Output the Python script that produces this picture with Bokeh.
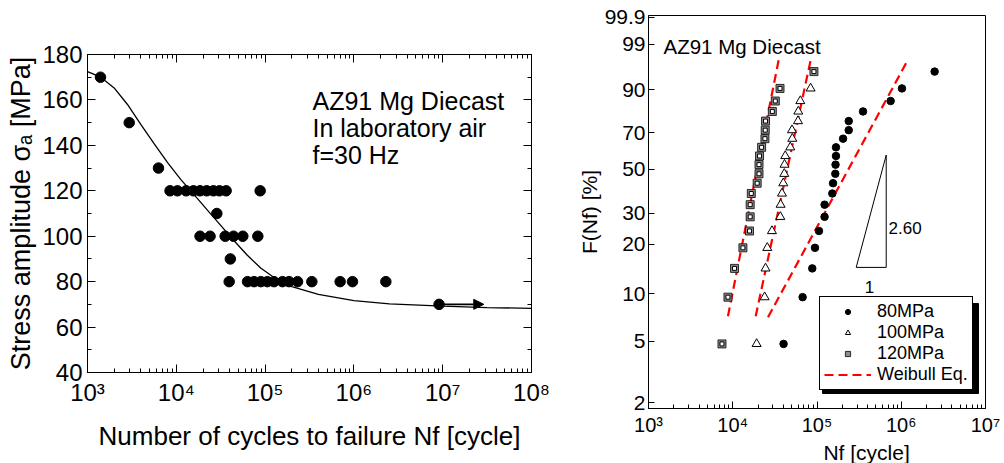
import math
from bokeh.plotting import figure
from bokeh.layouts import row
from bokeh.models import (FixedTicker, CustomJSTickFormatter, LogAxis, LinearAxis, Label,
                          Arrow, NormalHead, Legend, LegendItem)
from bokeh.embed import file_html
from bokeh.resources import INLINE

FONT = "Liberation Sans"

# ---------------- Left panel: S-N data (AZ91 Mg diecast) ----------------
sn_stress = [170, 150, 130,
             120, 120, 120, 120, 120, 120, 120, 120, 120, 120,
             110,
             100, 100, 100, 100, 100, 100,
             90,
             80, 80, 80, 80, 80, 80, 80, 80, 80, 80, 80, 80, 80]
sn_cycles = [1400, 2950, 6300,
             8500, 10300, 12900, 15600, 18500, 22000, 26200, 30600, 36400, 88000,
             28600,
             18500, 24000, 35500, 44100, 56100, 82800,
             40600,
             39400, 63400, 75200, 89500, 106000, 126000, 157000, 186000, 232000,
             336000, 700000, 964000, 2290000]
runout_cycles = [9100000]
runout_stress = [70]
runout_arrow_end = [29000000]

curve_N = [1000, 1410, 1995, 2820, 3980, 5620, 7940, 11200, 15850, 22400, 31600,
           44700, 63100, 89100, 126000, 200000, 398000, 1000000, 2510000,
           10000000, 31600000, 100000000]
curve_S = [172.5, 170.0, 165.3, 158.0, 149.2, 140.8, 132.5, 125.0, 118.3, 111.5, 104.8,
           98.0, 91.6, 86.0, 81.8, 77.8, 74.4, 71.6, 70.2, 69.2, 68.6, 68.2]

sn_x_ticks = [1e3, 1e4, 1e5, 1e6, 1e7, 1e8]
sn_y_ticks = [40, 60, 80, 100, 120, 140, 160, 180]

# ---------------- Right panel: Weibull plot ----------------
F_rank = [4.8, 9.5, 14.3, 19.0, 23.8, 28.6, 33.3, 38.1, 42.9, 47.6,
          52.4, 57.1, 61.9, 66.7, 71.4, 76.2, 81.0, 85.7, 90.5, 95.2]
N_80 = [40100, 67500, 87900, 94600, 105600, 123000, 123000, 152000, 155000, 165000,
        166000, 168000, 168000, 204000, 238000, 238000, 352000, 748000, 1020000, 2490000]
N_100 = [19200, 23900, 24500, 25700, 29200, 36700, 37000, 38400, 39800, 40900,
         41200, 42000, 48200, 50900, 50500, 59500, 60000, 63400, 84000]
N_120 = [7450, 8770, 10500, 13200, 15800, 16100, 16100, 16600, 19500, 20500,
         20500, 20800, 22000, 24100, 24300, 24500, 29500, 32000, 36400, 92000]

wb_N_120 = [8770, 35600]
wb_F_120 = [7.2, 97.7]
wb_N_100 = [18700, 85500]
wb_F_100 = [7.2, 97.7]
wb_N_80 = [26200, 1150000]
wb_F_80 = [7.1, 96.9]

tri_N = [292000, 663000, 663000, 292000]
tri_F = [14.5, 14.5, 57.6, 14.5]

wb_x_ticks = [1e3, 1e4, 1e5, 1e6, 1e7]
wb_y_tick_labels = [2, 5, 10, 20, 30, 50, 70, 90, 99, 99.9]


def W(F):
    return [math.log(-math.log(1.0 - f / 100.0)) for f in F]


SUP_CODE = """
const s = {0:'\u2070',1:'\u00b9',2:'\u00b2',3:'\u00b3',4:'\u2074',5:'\u2075',6:'\u2076',7:'\u2077',8:'\u2078',9:'\u2079'};
const e = Math.round(Math.log10(tick));
return '10' + s[e];
"""


def minor_log(lo, hi):
    return [k * 10 ** e for e in range(lo, hi) for k in range(2, 10)]


def lbl(p, text, x, y, size, style="normal", align="left", angle=0.0):
    p.add_layout(Label(x=x, y=y, x_units="screen", y_units="screen", text=text,
                       text_font=FONT, text_font_size=f"{size}px", text_font_style=style,
                       text_align=align, text_baseline="alphabetic", angle=angle,
                       text_color="black"))


def style_axis(ax, size, tin, minin):
    ax.major_label_text_font = FONT
    ax.major_label_text_font_size = f"{size}px"
    ax.major_label_text_color = "black"
    ax.major_tick_in = tin
    ax.major_tick_out = 0
    ax.minor_tick_in = minin
    ax.minor_tick_out = 0
    ax.axis_line_color = "black"
    ax.major_tick_line_color = "black"
    ax.minor_tick_line_color = "black"


def axis_title(ax, text, size, standoff):
    ax.axis_label = text
    ax.axis_label_text_font = FONT
    ax.axis_label_text_font_size = f"{size}px"
    ax.axis_label_text_font_style = "normal"
    ax.axis_label_text_color = "black"
    ax.axis_label_standoff = standoff


def blank_formatter():
    return CustomJSTickFormatter(code="return '';")


def no_frame_align(p):
    try:
        p.frame_align = False
    except Exception:
        pass


# ================= LEFT FIGURE =================
p1 = figure(frame_width=444, frame_height=318, x_axis_type="log",
            x_range=(1e3, 1e8), y_range=(40, 180), title_location=None,
            min_border_left=87, min_border_right=37, min_border_top=54, min_border_bottom=91,
            output_backend="svg", toolbar_location=None)
no_frame_align(p1)
p1.grid.visible = False
p1.outline_line_color = "black"
p1.outline_line_alpha = 1
p1.background_fill_color = "white"
p1.border_fill_color = "white"

xt1 = FixedTicker(ticks=sn_x_ticks, minor_ticks=minor_log(3, 8))
yt1 = FixedTicker(ticks=sn_y_ticks, minor_ticks=[v + 10 for v in sn_y_ticks[:-1]])
p1.xaxis.ticker = xt1
p1.xaxis.formatter = CustomJSTickFormatter(code=SUP_CODE)
p1.yaxis.ticker = yt1
style_axis(p1.xaxis[0], 24, 8, 4)
style_axis(p1.yaxis[0], 24, 8, 4)
p1.xaxis.major_label_standoff = 6
p1.yaxis.major_label_standoff = 5
axis_title(p1.xaxis[0], "Number of cycles to failure Nf [cycle]", 26, 12)
axis_title(p1.yaxis[0], "Stress amplitude \u03c3\u2090 [MPa]", 27, 3)

top1 = LogAxis(ticker=xt1, formatter=blank_formatter(), major_label_standoff=0)
right1 = LinearAxis(ticker=yt1, formatter=blank_formatter(), major_label_standoff=0)
style_axis(top1, 8, 8, 4)
style_axis(right1, 8, 8, 4)
p1.add_layout(top1, "above")
p1.add_layout(right1, "right")

p1.line(curve_N, curve_S, line_color="black", line_width=1.3)
p1.scatter(sn_cycles, sn_stress, marker="circle", size=10.5, fill_color="black", line_color="black")
p1.scatter(runout_cycles, runout_stress, marker="circle", size=10.5, fill_color="black", line_color="black")
p1.add_layout(Arrow(end=NormalHead(size=10, fill_color="black", line_color="black"),
                    x_start=runout_cycles[0], y_start=runout_stress[0],
                    x_end=runout_arrow_end[0], y_end=runout_stress[0],
                    line_color="black", line_width=1.6))

lbl(p1, "AZ91 Mg Diecast", 225, 272, 25)
lbl(p1, "In laboratory air", 225, 245, 25)
lbl(p1, "f=30 Hz", 225, 218, 25)

# ================= RIGHT FIGURE =================
FW2, FH2 = 337, 393
XR2 = (1e3, 1e7)
YR2 = (-3.99, 1.96)
p2 = figure(frame_width=FW2, frame_height=FH2, x_axis_type="log",
            x_range=XR2, y_range=YR2, title_location=None,
            min_border_left=80, min_border_right=15, min_border_top=15, min_border_bottom=55,
            output_backend="svg", toolbar_location=None)
no_frame_align(p2)
p2.grid.visible = False
p2.outline_line_color = "black"
p2.outline_line_alpha = 1
p2.background_fill_color = "white"
p2.border_fill_color = "white"

p2.xaxis.ticker = FixedTicker(ticks=wb_x_ticks, minor_ticks=minor_log(3, 7))
p2.xaxis.formatter = CustomJSTickFormatter(code=SUP_CODE)
p2.yaxis.ticker = FixedTicker(ticks=W(wb_y_tick_labels), minor_ticks=[])
p2.yaxis.formatter = CustomJSTickFormatter(code="""
const f = 100*(1-Math.exp(-Math.exp(tick)));
return f > 99.5 ? f.toFixed(1) : String(Math.round(f));
""")
style_axis(p2.xaxis[0], 20, 7, 4)
style_axis(p2.yaxis[0], 21, 6, 0)
p2.xaxis.major_label_standoff = 5
p2.yaxis.major_label_standoff = 3
axis_title(p2.xaxis[0], "\u00a0" * 17 + "Nf [cycle]", 21, 2)
axis_title(p2.yaxis[0], "F(Nf) [%]", 21, 1)


# legend drop shadow: a box offset 3 px right/down from the legend box (screen px -> data)
def sx_to_data(sx):
    lo, hi = math.log10(XR2[0]), math.log10(XR2[1])
    return 10 ** (lo + sx / FW2 * (hi - lo))


def sy_to_data(sy):
    return YR2[0] + sy / FH2 * (YR2[1] - YR2[0])


LEG_X, LEG_Y, LEG_W, LEG_H = 171, 18, 156, 90
p2.quad(left=[sx_to_data(LEG_X + 3)], right=[sx_to_data(LEG_X + LEG_W + 3)],
        bottom=[sy_to_data(LEG_Y - 3)], top=[sy_to_data(LEG_Y + LEG_H - 3)],
        fill_color="black", line_color="black")

RED = "#ff0000"
l120 = p2.line(wb_N_120, W(wb_F_120), line_color=RED, line_dash="9 5", line_width=2.2)
p2.line(wb_N_100, W(wb_F_100), line_color=RED, line_dash="9 5", line_width=2.2)
p2.line(wb_N_80, W(wb_F_80), line_color=RED, line_dash="9 5", line_width=2.2)

r80 = p2.scatter(N_80, W(F_rank), marker="circle", size=7.5, fill_color="black", line_color="black")
r100 = p2.scatter(N_100, W(F_rank[:len(N_100)]), marker="triangle", size=9, fill_color="white",
                  line_color="black", line_width=1)
r120 = p2.scatter(N_120, W(F_rank), marker="square", size=8, fill_color="#8c8c8c",
                  line_color="black", line_width=0.8)
p2.scatter(N_120, W(F_rank), marker="square", size=4, fill_color="white",
           line_color="black", line_width=1)

p2.line(tri_N, W(tri_F), line_color="black", line_width=1)

lbl(p2, "AZ91 Mg Diecast", 15, 362, 20.5)
lbl(p2, "2.60", 240, 181, 17)
lbl(p2, "1", 221, 122, 17, align="center")

legend = Legend(items=[LegendItem(label="80MPa", renderers=[r80]),
                       LegendItem(label="100MPa", renderers=[r100]),
                       LegendItem(label="120MPa", renderers=[r120]),
                       LegendItem(label="Weibull Eq.", renderers=[l120])],
                location=(LEG_X, LEG_Y), label_text_font=FONT, label_text_font_size="18px",
                label_text_color="black",
                glyph_width=47, glyph_height=13, label_height=19, label_standoff=6,
                padding=4, spacing=0, margin=0, border_line_color="black",
                border_line_width=1.2, border_line_alpha=1,
                background_fill_color="white", background_fill_alpha=1)
p2.add_layout(legend)

layout = row(p1, p2)
open("out.html", "w").write(file_html(layout, INLINE))
